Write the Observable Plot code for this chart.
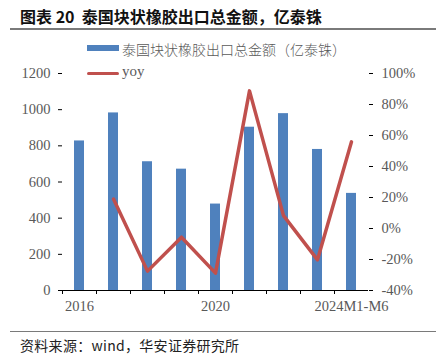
<!DOCTYPE html>
<html>
<head>
<meta charset="utf-8">
<script src="https://cdn.jsdelivr.net/npm/d3@7"></script>
<script src="https://cdn.jsdelivr.net/npm/@observablehq/plot@0.6"></script>
<style>
  html, body { margin: 0; padding: 0; background: #fff; }
  #wrap { position: relative; width: 436px; height: 361px; overflow: hidden; }
  #chart { position: absolute; left: 0; top: 0; }
  .abs { position: absolute; white-space: nowrap; }
  #title { left: 20px; top: 5px; font: bold 16px "Noto Sans CJK SC", sans-serif; color: #111; line-height: 22px; }
  #titleLine { left: 10px; top: 28px; width: 426px; height: 2px; background: #7a7a7a; }
  #footLine { left: 10px; top: 331px; width: 426px; height: 1px; background: #7a7a7a; }
  #source { left: 20px; top: 336px; font: 14px "Noto Sans CJK SC", sans-serif; color: #222; line-height: 18px; letter-spacing: 0.3px; }
  .legSw { left: 87px; width: 32px; }
  .legTxt { left: 122px; color: #595959; line-height: 18px; }
</style>
</head>
<body>
<div id="wrap">
  <div id="chart"></div>
  <div id="title" class="abs">图表 20&nbsp;&nbsp;泰国块状橡胶出口总金额，亿泰铢</div>
  <div id="titleLine" class="abs"></div>
  <div class="abs legSw" style="top:45px;height:6px;background:#4F81BD;"></div>
  <div class="abs legTxt" style="top:39px;font:14px 'Noto Sans CJK SC', sans-serif;font-weight:300;">泰国块状橡胶出口总金额（亿泰铢）</div>
  <div class="abs legSw" style="top:71.5px;height:3.5px;background:#C0504D;border-radius:2px;"></div>
  <div class="abs legTxt" style="top:63px;font:15px 'Liberation Serif', serif;">yoy</div>
  <div id="footLine" class="abs"></div>
  <div id="source" class="abs">资料来源：wind，华安证券研究所</div>
</div>
<script>
const categories = ["2016","2017","2018","2019","2020","2021","2022","2023","2024M1-M6"];
const exportValues = [827, 982, 712, 671, 478, 903, 978, 780, 537];
const yoyCategories = ["2017","2018","2019","2020","2021","2022","2023","2024M1-M6"];
const yoyValues = [19, -27.5, -5.6, -28.8, 88.8, 8.3, -20.2, 55.9];
const leftTicks = [0, 200, 400, 600, 800, 1000, 1200];
const rightTicks = [-40, -20, 0, 20, 40, 60, 80, 100];
const xLabels = ["2016", "2020", "2024M1-M6"];

const leftMax = 1200, rightMin = -40, rightMax = 100;
const toLeft = v => (v - rightMin) / (rightMax - rightMin) * leftMax;
const fromLeft = y => y / leftMax * (rightMax - rightMin) + rightMin;

const W = 436, H = 361, ML = 62, MR = 68, MT = 73, MB = 71;
const step = (W - ML - MR) / categories.length;

const bars = categories.map((c, i) => ({cat: c, value: exportValues[i]}));
const yoy = yoyCategories.map((c, i) => ({cat: c, value: yoyValues[i]}));

const chart = Plot.plot({
  width: W, height: H,
  marginLeft: ML, marginRight: MR, marginTop: MT, marginBottom: MB,
  style: {fontFamily: "'Liberation Serif', serif", fontSize: "14.5px", color: "#595959", background: "transparent"},
  x: {type: "band", domain: categories, paddingInner: 0.7, paddingOuter: 0.35, axis: null},
  y: {domain: [0, leftMax], nice: false, axis: null},
  marks: [
    Plot.barY(bars, {x: "cat", y: "value", fill: "#4F81BD"}),
    Plot.lineY(yoy, {x: "cat", y: d => toLeft(d.value), stroke: "#C0504D", strokeWidth: 3.5, strokeLinejoin: "round", strokeLinecap: "round"}),
    Plot.ruleY([0], {stroke: "#000", strokeWidth: 1}),
    Plot.axisY({anchor: "left", ticks: leftTicks, tickSize: 4, tickPadding: 8, stroke: "#000", fill: "#595959", line: true, label: null, tickFormat: d => String(d)}),
    Plot.axisY({anchor: "right", ticks: rightTicks.map(toLeft), tickSize: 4, tickPadding: 9, stroke: "#000", fill: "#595959", line: true, label: null, tickFormat: d => Math.round(fromLeft(d)) + "%"}),
    Plot.axisX({ticks: categories, tickSize: 4, text: null, dx: -step / 2, stroke: "#000", label: null}),
    Plot.axisX({ticks: xLabels, tickSize: 0, tickPadding: 10, fill: "#595959", label: null})
  ]
});
document.getElementById("chart").appendChild(chart);
</script>
</body>
</html>
